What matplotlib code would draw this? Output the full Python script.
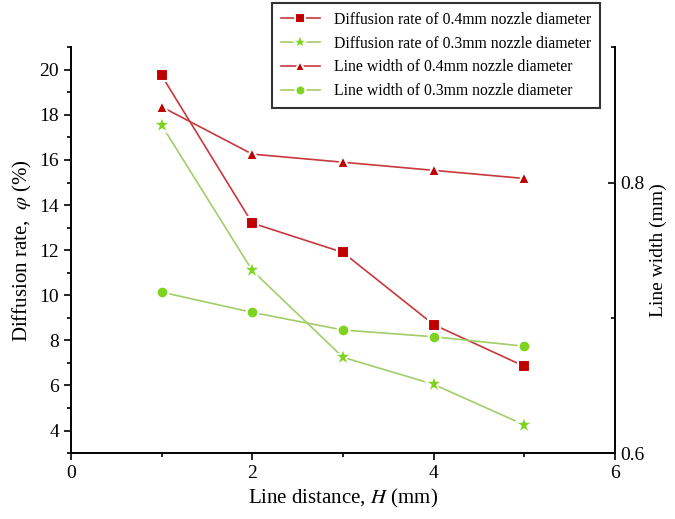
import numpy as np
import matplotlib.pyplot as plt
from matplotlib.ticker import MultipleLocator

plt.rcParams['font.family'] = ['Liberation Serif', 'DejaVu Serif']
plt.rcParams['mathtext.fontset'] = 'stix'

# data
distance = [1, 2, 3, 4, 5]
diff_04 = [19.75, 13.2, 11.9, 8.7, 6.85]
diff_03 = [17.55, 11.1, 7.25, 6.05, 4.25]
width_04 = [0.856, 0.821, 0.815, 0.809, 0.803]
width_03 = [0.719, 0.704, 0.691, 0.686, 0.679]

red = '#C00000'
red_line = '#C8383C'
green = '#7ED321'
green_line = '#A3CC6A'

fig = plt.figure(figsize=(6.75, 5.19), dpi=100)
ax = fig.add_axes([0.105, 0.127, 0.806, 0.782])
ax2 = ax.twinx()

l1, = ax.plot(distance, diff_04, color=red_line, lw=1.2, marker='s', ms=8.5,
              mfc=red, mec='white', mew=1.5, label='Diffusion rate of 0.4mm nozzle diameter')
l2, = ax.plot(distance, diff_03, color=green_line, lw=1.2, marker='*', ms=13.5,
              mfc=green, mec='white', mew=1.2, label='Diffusion rate of 0.3mm nozzle diameter')
l3, = ax2.plot(distance, width_04, color=red_line, lw=1.2, marker='^', ms=9,
               mfc=red, mec='white', mew=1.5, label='Line width of 0.4mm nozzle diameter')
l4, = ax2.plot(distance, width_03, color=green_line, lw=1.2, marker='o', ms=8.5,
               mfc=green, mec='white', mew=1.5, label='Line width of 0.3mm nozzle diameter')

ax.set_xlim(0, 6)
ax.set_ylim(3, 21)
ax2.set_ylim(0.6, 0.9)

ax.xaxis.set_major_locator(MultipleLocator(2))
ax.xaxis.set_minor_locator(MultipleLocator(1))
ax.set_yticks(range(4, 21, 2))
ax.yaxis.set_minor_locator(MultipleLocator(1))
ax2.set_yticks([0.6, 0.8])
ax2.yaxis.set_minor_locator(MultipleLocator(0.1))

ax.tick_params(axis='both', which='major', direction='out', length=5, width=1.2, labelsize=14)
ax.tick_params(axis='both', which='minor', direction='out', length=3, width=1.2)
ax2.tick_params(axis='y', which='major', direction='in', length=5, width=1.2, labelsize=14)
ax2.tick_params(axis='y', which='minor', direction='in', length=3, width=1.2)

for a in (ax, ax2):
    a.spines['top'].set_visible(False)
    for s in ('left', 'bottom', 'right'):
        a.spines[s].set_linewidth(1.2)

ax.set_xlabel('Line distance, $H$ (mm)', fontsize=15)
ax.set_ylabel(r'Diffusion rate,  $\varphi$ (%)', fontsize=15)
ax2.set_ylabel('Line width (mm)', fontsize=14)

leg = fig.legend(handles=[l1, l2, l3, l4], loc='upper left', bbox_to_anchor=(0.403, 0.994),
                 borderaxespad=0, fontsize=11.3, frameon=True, fancybox=False,
                 edgecolor='black', handlelength=2.5, handletextpad=0.9,
                 labelspacing=0.5, borderpad=0.55, markerscale=0.85)
leg.get_frame().set_linewidth(1.5)

plt.savefig('out.png', dpi=100)
